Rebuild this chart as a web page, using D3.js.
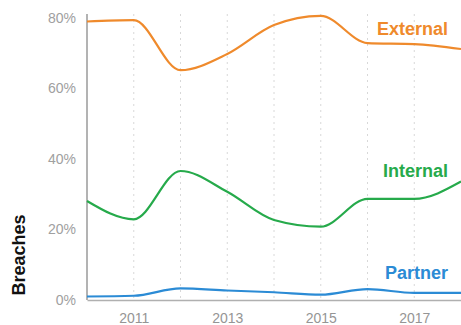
<!DOCTYPE html>
<html>
<head>
<meta charset="utf-8">
<script src="https://cdn.jsdelivr.net/npm/d3@7"></script>
<style>
  html, body { margin: 0; padding: 0; background: #fff; }
  svg { display: block; font-family: "Liberation Sans", Arial, Helvetica, sans-serif; }
</style>
</head>
<body>
<svg id="chart" width="461" height="325"></svg>
<script>
// Share of breaches by actor, 2010–2018
const years = [2010, 2011, 2012, 2013, 2014, 2015, 2016, 2017, 2018];
const external = [79.0, 79.4, 65.2, 69.8, 78.0, 80.6, 72.9, 72.6, 71.2];
const internal = [28.1, 22.9, 36.6, 30.7, 22.7, 20.8, 28.7, 28.7, 33.6];
const partner  = [1.0, 1.2, 3.3, 2.7, 2.2, 1.5, 3.1, 2.0, 2.0];
const yTicks = [0, 20, 40, 60, 80];
const xTicks = [2011, 2013, 2015, 2017];
const gridYears = [2011, 2012, 2013, 2014, 2015, 2016, 2017];

const seriesList = [
  { name: "External", values: external, color: "#ef8a2c", labelY: 35 },
  { name: "Internal", values: internal, color: "#26aa4b", labelY: 177 },
  { name: "Partner",  values: partner,  color: "#2b8bd5", labelY: 279 }
];

const svg = d3.select("#chart");
const x = d3.scaleLinear().domain([2010, 2018]).range([87, 461]);
const y = d3.scaleLinear().domain([0, 80]).range([300, 18]);

// dotted vertical guides
svg.append("g")
  .selectAll("line")
  .data(gridYears)
  .join("line")
  .attr("x1", d => x(d)).attr("x2", d => x(d))
  .attr("y1", 14).attr("y2", 300)
  .attr("stroke", "#d8d8d8")
  .attr("stroke-width", 1)
  .attr("stroke-dasharray", "2,4");

// y axis
const yAxis = svg.append("g")
  .attr("transform", `translate(${x(2010)},0)`)
  .call(d3.axisLeft(y).tickValues(yTicks).tickFormat(d => d + "%").tickSize(0).tickPadding(11));
yAxis.select(".domain").attr("stroke", "#9a9a9a").attr("stroke-width", 1.5)
  .attr("d", `M0,14V300`);
yAxis.selectAll("text").attr("fill", "#a0a0a0").attr("font-size", 14)
  .attr("font-family", "Liberation Sans, Arial, sans-serif");

// x axis
const xAxis = svg.append("g")
  .attr("transform", `translate(0,${y(0)})`)
  .call(d3.axisBottom(x).tickValues(xTicks).tickFormat(d3.format("d")).tickSize(0).tickPadding(13));
xAxis.select(".domain").attr("stroke", "#b0b0b0").attr("stroke-width", 1.5);
xAxis.selectAll("text").attr("fill", "#959595").attr("font-size", 14)
  .attr("font-family", "Liberation Sans, Arial, sans-serif");

// lines
const line = d3.line()
  .x((d, i) => x(years[i]))
  .y(d => y(d))
  .curve(d3.curveMonotoneX);

svg.append("g")
  .selectAll("path")
  .data(seriesList)
  .join("path")
  .attr("d", s => line(s.values))
  .attr("fill", "none")
  .attr("stroke", s => s.color)
  .attr("stroke-width", 2.2);

// series labels
svg.append("g")
  .selectAll("text")
  .data(seriesList)
  .join("text")
  .attr("x", 448)
  .attr("y", s => s.labelY)
  .attr("text-anchor", "end")
  .attr("font-size", 18)
  .attr("font-weight", "bold")
  .attr("fill", s => s.color)
  .text(s => s.name);

// y axis title
svg.append("text")
  .attr("transform", "translate(25,255) rotate(-90)")
  .attr("text-anchor", "middle")
  .attr("font-size", 18)
  .attr("font-weight", "bold")
  .attr("fill", "#111")
  .text("Breaches");
</script>
</body>
</html>
